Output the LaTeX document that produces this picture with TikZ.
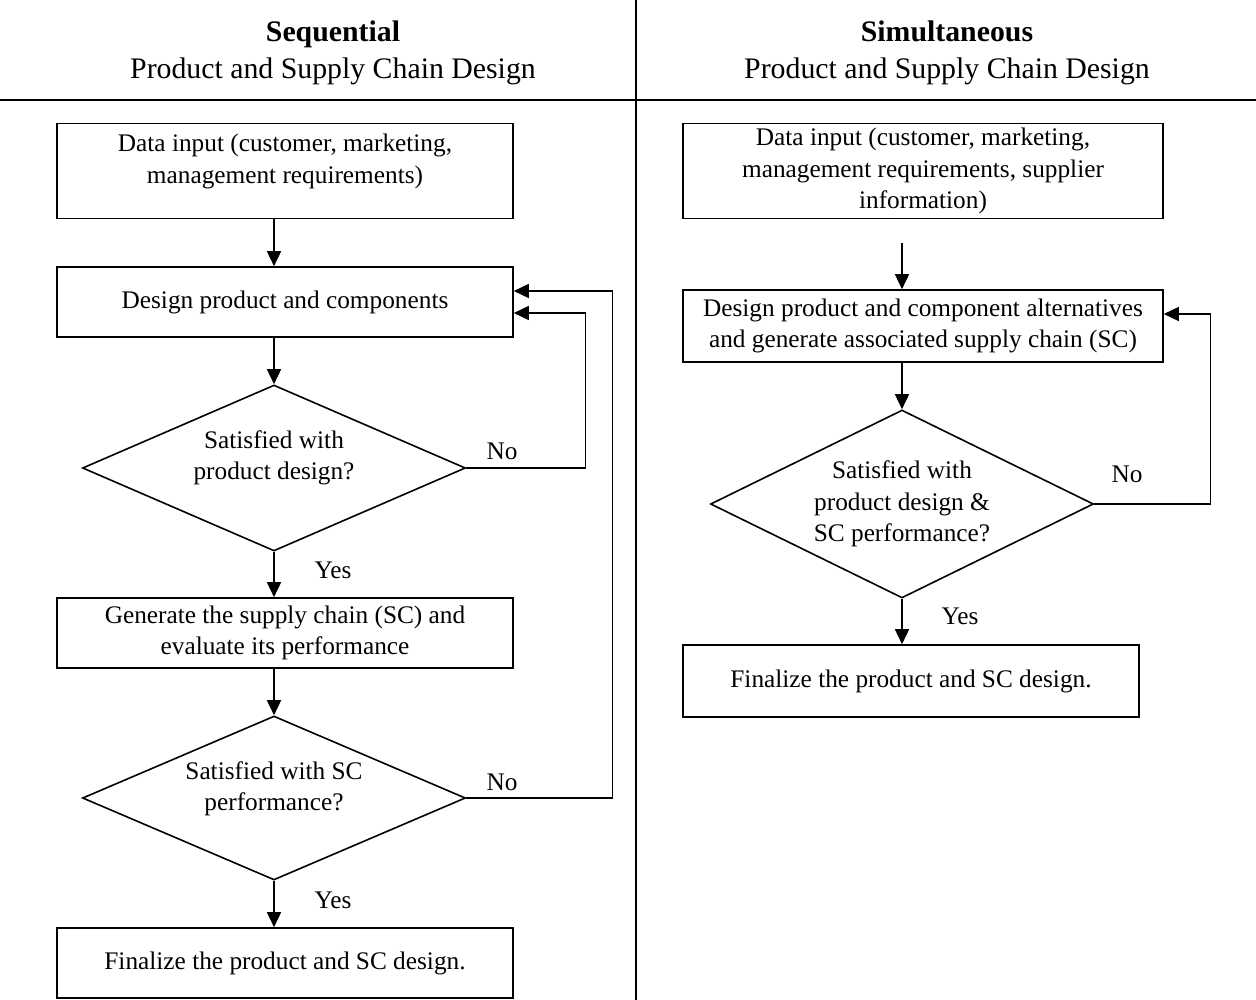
\documentclass[tikz,border=0pt]{standalone}
\usepackage{fontspec}
\setmainfont{Liberation Serif}
\usetikzlibrary{shapes.geometric,arrows.meta}

\tikzset{
  caixa/.style={rectangle, draw, line width=1.6pt, align=center, inner sep=0pt},
  losango/.style={diamond, draw, line width=1.6pt, align=center, inner sep=0pt, aspect=2.2},
  seta/.style={line width=1.6pt, -{Triangle[length=15pt,width=14pt]}},
  linha/.style={line width=1.6pt},
}

\begin{document}
\begin{tikzpicture}[x=1pt, y=-1pt, font=\fontsize{25.3}{31.5}\selectfont]
            \useasboundingbox (0,0) rectangle (1256,1000);

            %títulos
            \draw (333,53) node[align=center, font=\fontsize{29.8}{37}\selectfont](t1){\textbf{Sequential}\\Product and Supply Chain Design}
            (947,53) node[align=center, font=\fontsize{29.8}{37}\selectfont](t2){\textbf{Simultaneous}\\Product and Supply Chain Design};
            \draw[linha] (0,100) -- (1256,100);
            \draw[linha] (636,0) -- (636,1000);

            %caixas (sequencial)
            \draw (285,171) node[caixa, minimum width=456pt, minimum height=95pt](a1){Data input (customer, marketing,\\management requirements)\\[-16pt]\strut}
            (285,302) node[caixa, minimum width=456pt, minimum height=70pt](a2){Design product and components}
            (274,468) node[losango, minimum width=383pt, minimum height=166pt](d1){Satisfied with\\product design?\\[-15.5pt]\strut}
            (285,633) node[caixa, minimum width=456pt, minimum height=70pt](a3){Generate the supply chain (SC) and\\evaluate its performance}
            (274,798) node[losango, minimum width=383pt, minimum height=164pt](d2){Satisfied with SC\\performance?\\[-17pt]\strut}
            (285,963) node[caixa, minimum width=456pt, minimum height=70pt](a4){Finalize the product and SC design.};

            %caixas (simultâneo)
            \draw (923,171) node[caixa, minimum width=480pt, minimum height=95pt](b1){Data input (customer, marketing,\\management requirements, supplier\\information)}
            (923,326) node[caixa, minimum width=480pt, minimum height=72pt](b2){Design product and component alternatives\\and generate associated supply chain (SC)}
            (902,504) node[losango, aspect=2, minimum width=383pt, minimum height=188pt](e1){Satisfied with\\product design \&\\SC performance?}
            (911,681) node[caixa, minimum width=456pt, minimum height=72pt](b3){Finalize the product and SC design.};
            \coordinate (c0) at (902,243);

            %rótulos
            \draw (502,451) node(n1){No}
            (502,782) node(n2){No}
            (1127,474) node(n3){No}
            (333,570) node(y1){Yes}
            (333,900) node(y2){Yes}
            (960,616) node(y3){Yes};

            %setas
            \draw[seta] (a1.south -| d1.north) -- (a2.north -| d1.north);
            \draw[seta] (a2.south -| d1.north) -- (d1.north);
            \draw[seta] (d1.south) -- (a3.north -| d1.south);
            \draw[seta] (a3.south -| d2.north) -- (d2.north);
            \draw[seta] (d2.south) -- (a4.north -| d2.south);
            \draw[seta] (d1.east) -- ++(119,0) |- ([yshift=-11pt]a2.east);
            \draw[seta] (d2.east) -- ++(146,0) |- ([yshift=11pt]a2.east);
            \draw[seta] (c0) -- (b2.north -| c0);
            \draw[seta] (b2.south -| e1.north) -- (e1.north);
            \draw[seta] (e1.south) -- (b3.north -| e1.south);
            \draw[seta] (e1.east) -- ++(116,0) |- ([yshift=12pt]b2.east);
        \end{tikzpicture}
\end{document}
